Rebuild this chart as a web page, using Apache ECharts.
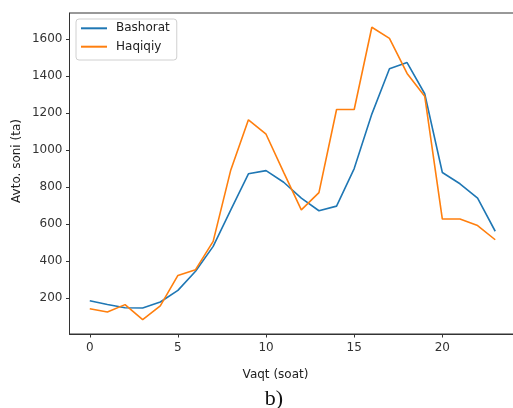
<!DOCTYPE html>
<html>
<head>
<meta charset="utf-8">
<script src="https://cdn.jsdelivr.net/npm/echarts@6/dist/echarts.min.js"></script>
<style>html,body{margin:0;padding:0;background:#fff}#c{width:513px;height:408px}</style>
</head>
<body>
<div id="c"></div>
<script>
const hours = [0,1,2,3,4,5,6,7,8,9,10,11,12,13,14,15,16,17,18,19,20,21,22,23];
const bashorat = [185,165,147,146,178,241,345,479,677,872,889,826,740,672,697,900,1195,1440,1474,1305,879,818,740,561];
const haqiqiy = [142,124,164,83,157,322,353,506,893,1164,1086,880,677,770,1220,1220,1665,1605,1415,1292,627,627,592,515];
const xTicks = [0,5,10,15,20];
const yTicks = [200,400,600,800,1000,1200,1400,1600];

const font = 'DejaVu Sans';
const chart = echarts.init(document.getElementById('c'), null, {renderer:'canvas'});
chart.setOption({
  animation: false,
  backgroundColor: '#fff',
  grid: {left: 69.5, top: 13, width: 446, height: 321, show: true, borderColor: '#333', borderWidth: 1, containLabel: false, outerBoundsMode: 'none'},
  legend: {
    left: 76, top: 19, orient: 'vertical',
    icon: 'rect', itemWidth: 26, itemHeight: 2, itemGap: 4.4,
    padding: [2.3, 7, 6.3, 5],
    borderColor: '#d0d0d0', borderWidth: 1, borderRadius: 3, backgroundColor: 'rgba(255,255,255,0.8)',
    textStyle: {fontFamily: font, fontSize: 12, color: '#222', lineHeight: 14, padding: [0,0,0,4]},
    data: ['Bashorat','Haqiqiy']
  },
  xAxis: {
    type: 'value', min: -1.15, max: 24.15,
    axisLine: {show: true, onZero: false, lineStyle: {color: '#333', width: 1}},
    axisTick: {show: true, length: 3.5, customValues: xTicks, lineStyle: {color: '#333'}},
    axisLabel: {customValues: xTicks, margin: 8, fontFamily: font, fontSize: 12, color: '#333', formatter: v => String(v)},
    splitLine: {show: false}
  },
  yAxis: {
    type: 'value', min: 5, max: 1742,
    axisLine: {show: true, onZero: false, lineStyle: {color: '#333', width: 1}},
    axisTick: {show: true, length: 3.5, customValues: yTicks, lineStyle: {color: '#333'}},
    axisLabel: {customValues: yTicks, margin: 7, fontFamily: font, fontSize: 12, color: '#333', formatter: v => String(v)},
    splitLine: {show: false}
  },
  graphic: [
    {type: 'text', x: 275.5, y: 375, style: {text: 'Vaqt (soat)', font: '12px "DejaVu Sans"', fill: '#222', align: 'center', verticalAlign: 'middle'}},
    {type: 'text', x: 17, y: 161, rotation: Math.PI/2, style: {text: 'Avto. soni (ta)', font: '12px "DejaVu Sans"', fill: '#222', align: 'center', verticalAlign: 'middle'}},
    {type: 'text', x: 274, y: 399, style: {text: 'b)', font: '22px "Liberation Serif"', fill: '#111', align: 'center', verticalAlign: 'middle'}}
  ],
  series: [
    {name: 'Bashorat', type: 'line', data: hours.map((h,i)=>[h,bashorat[i]]), showSymbol: false, symbol: 'none',
     lineStyle: {color: '#1f77b4', width: 1.6}, itemStyle: {color: '#1f77b4'}},
    {name: 'Haqiqiy', type: 'line', data: hours.map((h,i)=>[h,haqiqiy[i]]), showSymbol: false, symbol: 'none',
     lineStyle: {color: '#ff7f0e', width: 1.6}, itemStyle: {color: '#ff7f0e'}}
  ]
});
</script>
</body>
</html>
